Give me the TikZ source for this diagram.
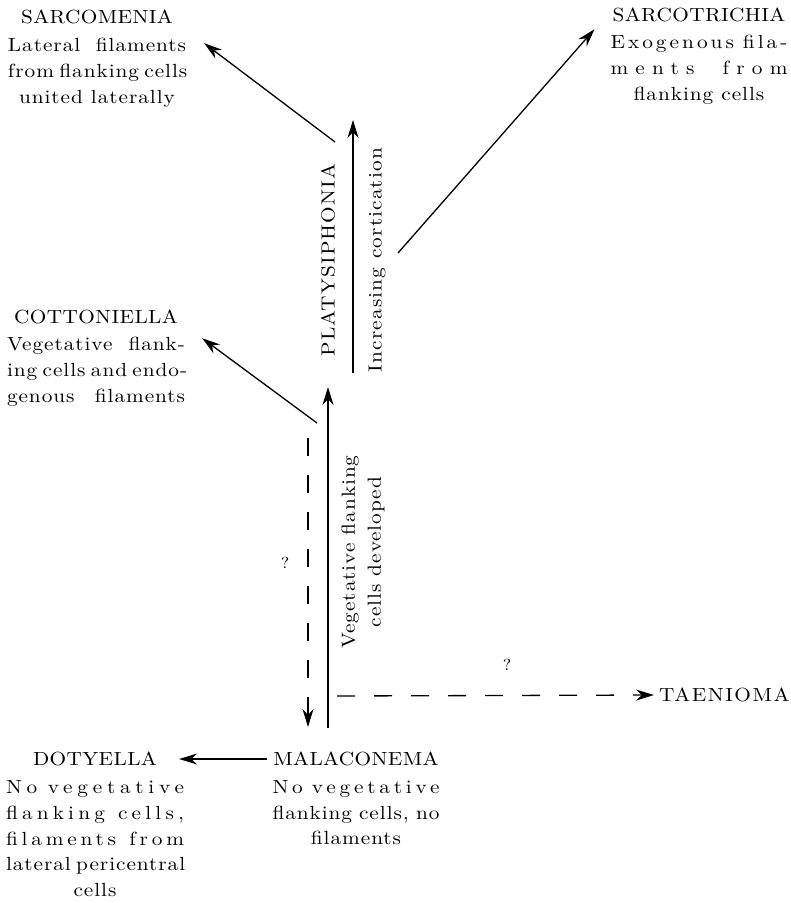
\documentclass[tikz,border=0pt]{standalone}
\usepackage{fontspec}
\setmainfont{lmroman10-regular.otf}[FakeStretch=1.12]
\usetikzlibrary{arrows.meta,positioning}
\newcommand{\bodyfont}{\fontsize{19}{25.8}\selectfont\addfontfeature{LetterSpace=5}}
\newcommand{\capsfont}{\fontsize{19}{25.8}\selectfont\addfontfeature{LetterSpace=2}}
\newcommand{\jl}[3][5]{\makebox[#2][s]{\addfontfeature{LetterSpace=#1}#3}}
\begin{document}
\begin{tikzpicture}[x=1pt, y=-1pt,
  every node/.style={inner sep=0pt, font=\bodyfont},
  genus/.style={font=\capsfont},
  desc/.style={align=center},
  query/.style={font=\fontsize{16}{18}\selectfont},
  arr/.style={-{Stealth[length=18pt,width=11pt]}, line width=1.3pt},
  dasharr/.style={arr, dash pattern=on 18pt off 19pt}]
\useasboundingbox (0,0) rectangle (791,903);
\fill[white] (0,0) rectangle (791,903);
% genera at the top
\node[genus] (sarco) at (97,17) {SARCOMENIA};
\node[desc, below=14pt of sarco] (sarcod) {\jl{178pt}{Lateral filaments}\\ \jl{178pt}{from flanking cells}\\ united laterally};
\node[genus] (sarcot) at (699,15) {SARCOTRICHIA};
\node[desc, below=13pt of sarcot] (sarcotd) {\jl[16]{177pt}{Exogenous fila-}\\ \jl[38]{177pt}{ments from}\\ flanking cells};
\node[genus] (cotto) at (96,317) {COTTONIELLA};
\node[desc, below=13pt of cotto] (cottod) {\jl{178pt}{Vegetative flank-}\\ \jl{178pt}{ing cells and endo-}\\ \jl{178pt}{genous filaments}};
% genera at the bottom
\node[genus] (doty) at (95,759) {DOTYELLA};
\node[desc, below=14pt of doty] (dotyd) {\jl[25]{178pt}{No vegetative}\\ \jl[22]{178pt}{flanking cells,}\\ \jl[20]{178pt}{filaments from}\\ \jl{178pt}{lateral pericentral}\\ cells};
\node[genus] (mala) at (356,759) {MALACONEMA};
\node[desc, below=14pt of mala] (malad) {\jl[20]{167pt}{No vegetative}\\ \jl{167pt}{flanking cells, no}\\ filaments};
\node[genus, font={\capsfont\addfontfeature{LetterSpace=8}}, anchor=west] (taen) at (659,695) {TAENIOMA};
% axis labels
\node[genus, rotate=90, font={\capsfont\addfontfeature{LetterSpace=6}}] (platy) at (328,260) {PLATYSIPHONIA};
\node[rotate=90] (cortic) at (377,260) {\jl[6]{224pt}{Increasing cortication}};
\node[rotate=90, align=center, font={\bodyfont\addfontfeature{LetterSpace=5}}] (vegfl) at (363,552) {Vegetative flanking\\ cells developed};
\node[query] (q1) at (285,563) {?};
\node[query] (q2) at (507,665) {?};
% connectors
\coordinate (vegbot) at (328,728);
\coordinate (vegtop) at (328,387);
\coordinate (cortbot) at (353,373);
\coordinate (corttop) at (353,120);
\coordinate (smfoot) at (335,142);
\coordinate (stfoot) at (398,253);
\coordinate (ctfoot) at (317,423);
\coordinate (qtop) at (308,438);
\coordinate (qbot) at (308,727);
\coordinate (tstart) at (337,696);
\draw[arr] (vegbot) -- (vegtop);
\draw[arr] (cortbot) -- (corttop);
\draw[arr] (smfoot) -- ([shift={(18,5)}]sarcod.north east);
\draw[arr] (stfoot) -- ([shift={(-18,7)}]sarcot.south west);
\draw[arr] (ctfoot) -- ([shift={(17,1)}]cottod.north east);
\draw[dasharr] (qtop) -- (qbot);
\draw[dasharr] (tstart) -- ([xshift=-5pt]taen.west);
\draw[arr, shorten <=6pt, shorten >=22pt] (mala.west) -- (doty.east);
\end{tikzpicture}
\end{document}
